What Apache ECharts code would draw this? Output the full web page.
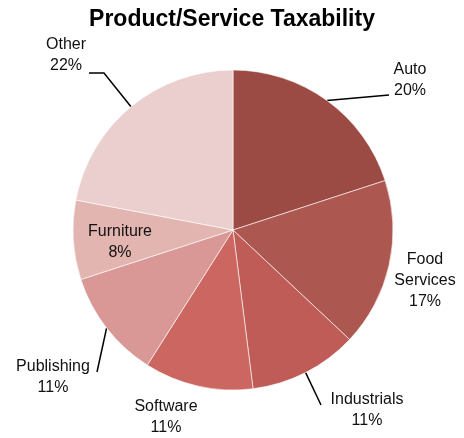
<!DOCTYPE html>
<html>
<head>
<meta charset="utf-8">
<script src="https://cdn.jsdelivr.net/npm/echarts@6/dist/echarts.min.js"></script>
<style>
  html, body { margin: 0; padding: 0; background: #fff; }
  #chart { width: 464px; height: 438px; }
</style>
</head>
<body>
<div id="chart"></div>
<script>
// Share of products/services by taxability category (percent)
const categories = ['Auto', 'Food Services', 'Industrials', 'Software', 'Publishing', 'Furniture', 'Other'];
const shares = [20, 17, 11, 11, 11, 8, 22];
const sliceColors = ['#9c4a44', '#ad5751', '#c05c57', '#cc6660', '#d99896', '#e2b5b1', '#eacfce'];

// Where each label sits, and the bend/end of its leader line (null = no line)
const labelSpots = [
  { x: 410, y: 80, line: [[389, 95], [389, 95]] },
  { x: 425, y: 281, line: null },
  { x: 367, y: 410, line: [[321, 405], [321, 405]] },
  { x: 166, y: 417, line: null },
  { x: 53, y: 377, line: [[97, 372], [97, 372]] },
  { x: 120, y: 242, line: null },
  { x: 66, y: 55, line: [[104, 73], [89, 73]] }
];

const chart = echarts.init(document.getElementById('chart'));

const data = categories.map((name, i) => {
  const spot = labelSpots[i];
  const item = {
    name: name,
    value: shares[i],
    itemStyle: { color: sliceColors[i] },
    labelLine: { show: !!spot.line }
  };
  if (name === 'Furniture') item.label = { position: 'inside' };
  return item;
});

chart.setOption({
  animation: false,
  title: {
    text: 'Product/Service Taxability',
    left: 'center',
    top: 3,
    textStyle: {
      fontFamily: 'Liberation Sans',
      fontWeight: 'bold',
      fontSize: 23,
      color: '#000'
    }
  },
  series: [{
    type: 'pie',
    center: [233, 230],
    radius: 160,
    startAngle: 90,
    clockwise: true,
    data: data,
    itemStyle: { borderColor: '#fff', borderWidth: 0.6 },
    label: {
      show: true,
      position: 'outside',
      overflow: 'none',
      fontFamily: 'Liberation Sans',
      fontSize: 16,
      lineHeight: 21,
      color: '#111',
      align: 'center',
      formatter: p => p.name.replace(' ', '\n') + '\n' + p.value + '%'
    },
    labelLine: {
      lineStyle: { color: '#000', width: 1.5 }
    },
    labelLayout: function (params) {
      const spot = labelSpots[params.dataIndex];
      const out = {
        x: spot.x,
        y: spot.y,
        align: 'center',
        verticalAlign: 'middle'
      };
      if (spot.line && params.labelLinePoints) {
        out.labelLinePoints = [params.labelLinePoints[0], spot.line[0], spot.line[1]];
      }
      return out;
    }
  }]
});
</script>
</body>
</html>
